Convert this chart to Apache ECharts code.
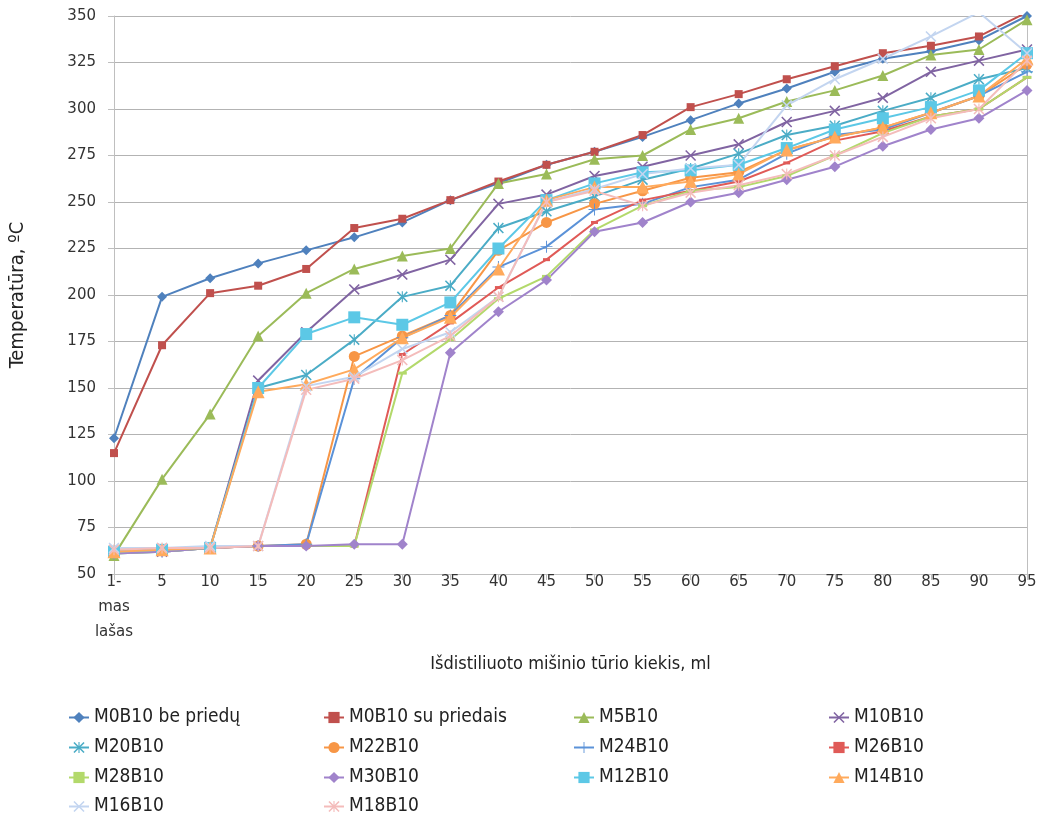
<!DOCTYPE html>
<html><head><meta charset="utf-8">
<script src="https://cdn.jsdelivr.net/npm/echarts@6/dist/echarts.min.js"></script>
<style>html,body{margin:0;padding:0;background:#fff}#c{width:1046px;height:816px}</style>
</head><body><div id="c"></div>
<script>
const categories = ['1-\nmas\nlašas','5','10','15','20','25','30','35','40','45','50','55','60','65','70','75','80','85','90','95'];
const yTicks = [50,75,100,125,150,175,200,225,250,275,300,325,350];

const M0B10_be = [123,199,209,217,224,231,239,251,260,270,277,285,294,303,311,320,327,331,337,350];
const M0B10_su = [115,173,201,205,214,236,241,251,261,270,277,286,301,308,316,323,330,334,339,352];
const M5B10  = [60,101,136,178,201,214,221,225,260,265,273,275,289,295,304,310,318,329,332,348];
const M10B10 = [62,62,64,154,180,203,211,219,249,254,264,269,275,281,293,299,306,320,326,332];
const M20B10 = [62,63,64,150,157,176,199,205,236,245,253,262,268,276,286,291,299,306,316,322];
const M22B10 = [62,63,64,65,66,167,178,189,224,239,249,256,263,266,278,285,290,298,307,324];
const M24B10 = [61,62,64,65,66,155,177,189,215,226,246,249,258,262,276,286,289,298,307,320];
const M26B10 = [62,63,64,65,65,65,168,185,204,219,239,251,256,261,271,283,288,296,300,317];
const M28B10 = [61,62,64,65,65,65,158,176,198,210,235,248,256,258,264,275,287,296,300,317];
const M30B10 = [61,62,64,65,65,66,66,169,191,208,234,239,250,255,262,269,280,289,295,310];
const M12B10 = [62,63,64,150,179,188,184,196,225,251,260,266,267,270,279,289,295,301,310,330];
const M14B10 = [62,63,64,148,152,160,177,188,214,251,258,258,261,265,278,285,290,298,307,327];
const M16B10 = [64,64,65,65,151,156,171,180,199,250,257,265,268,270,302,316,327,339,352,330];
const M18B10 = [63,64,64,65,149,155,165,178,199,250,256,248,255,259,265,275,285,295,300,326];

const legendOrder = ['M0B10 be priedų','M0B10 su priedais','M5B10','M10B10',
                     'M20B10','M22B10','M24B10','M26B10',
                     'M28B10','M30B10','M12B10','M14B10',
                     'M16B10','M18B10'];

const XP = 'path://M0,1 L1,0 L5,4 L9,0 L10,1 L6,5 L10,9 L9,10 L5,6 L1,10 L0,9 L4,5 Z';
const STAR = 'path://M0,1 L1,0 L5,4 L9,0 L10,1 L6,5 L10,9 L9,10 L5,6 L1,10 L0,9 L4,5 Z M4.5,0 L5.5,0 L5.5,10 L4.5,10 Z';
const PLUS = 'path://M4.6,0 L5.4,0 L5.4,4.6 L10,4.6 L10,5.4 L5.4,5.4 L5.4,10 L4.6,10 L4.6,5.4 L0,5.4 L0,4.6 L4.6,4.6 Z';

function s(name, data, color, symbol, size) {
  return {name, type:'line', data, symbol, symbolSize:size, showSymbol:true,
    lineStyle:{color, width:2}, itemStyle:{color}, z: 2, animation:false};
}
const series = [
  s('M0B10 be priedų', M0B10_be, '#4F81BD', 'diamond', 10),
  s('M0B10 su priedais', M0B10_su, '#C0504D', 'rect', 8),
  s('M5B10', M5B10, '#9BBB59', 'triangle', 11),
  s('M10B10', M10B10, '#8064A2', XP, 11),
  s('M20B10', M20B10, '#4BACC6', STAR, 11),
  s('M22B10', M22B10, '#F79646', 'circle', 11),
  s('M24B10', M24B10, '#5B92D8', PLUS, 12),
  s('M26B10', M26B10, '#E05A57', 'rect', [7,3]),
  s('M28B10', M28B10, '#B3D96B', 'rect', [9,3]),
  s('M30B10', M30B10, '#A083CB', 'diamond', 11),
  s('M12B10', M12B10, '#5CC8E6', 'rect', 12),
  s('M14B10', M14B10, '#FFAA5C', 'triangle', 13),
  s('M16B10', M16B10, '#C3D5F0', XP, 11),
  s('M18B10', M18B10, '#F4BCBB', STAR, 11)
];

const narrow = '"Liberation Sans Narrow","DejaVu Sans Condensed",sans-serif';
const legendText = {fontFamily:narrow, fontSize:19, color:'#222'};
const colX = [68, 323, 573, 828];
const rowY = [716, 746, 776, 805];
const legends = legendOrder.map((n, i) => ({
  left: colX[i % 4], top: rowY[Math.floor(i / 4)] - 8, padding:0, itemWidth:20, itemHeight:14,
  data:[n], textStyle:legendText, selectedMode:false
}));

const chart = echarts.init(document.getElementById('c'), null, {renderer:'canvas'});
chart.setOption({
  backgroundColor:'#fff',
  animation:false,
  grid:{left:111, right:19, top:16, bottom:242, containLabel:false},
  legend: legends,
  xAxis:{type:'category', data:categories, boundaryGap:false,
    name:'Išdistiliuoto mišinio tūrio kiekis, ml', nameLocation:'middle', nameGap:81,
    nameTextStyle:{fontFamily:narrow, fontSize:18, color:'#222'},
    axisLine:{lineStyle:{color:'#BFBFBF', width:1}},
    axisTick:{show:true, length:6, lineStyle:{color:'#BFBFBF'}},
    axisLabel:{fontFamily:'"DejaVu Sans",sans-serif', fontSize:15, color:'#333', margin:-4, lineHeight:25, interval:0},
    splitLine:{show:false}},
  yAxis:[{type:'value', min:50, max:350, interval:25,
    name:'Temperatūra, ºC', nameLocation:'middle', nameGap:86, nameRotate:90,
    nameTextStyle:{fontFamily:narrow, fontSize:20, color:'#222'},
    axisLine:{show:true, lineStyle:{color:'#BFBFBF'}},
    axisTick:{show:true, length:6, lineStyle:{color:'#BFBFBF'}},
    axisLabel:{fontFamily:'"DejaVu Sans",sans-serif', fontSize:15, color:'#333', margin:18,
      formatter: v => yTicks.includes(v) ? String(v) : ''},
    splitLine:{lineStyle:{color:'#B3B3B3', width:1}}},
   {type:'value', min:50, max:350, interval:25, position:'right',
    axisLine:{show:true, lineStyle:{color:'#BFBFBF'}}, axisTick:{show:false}, axisLabel:{show:false}, splitLine:{show:false}}],
  series
});
</script></body></html>
